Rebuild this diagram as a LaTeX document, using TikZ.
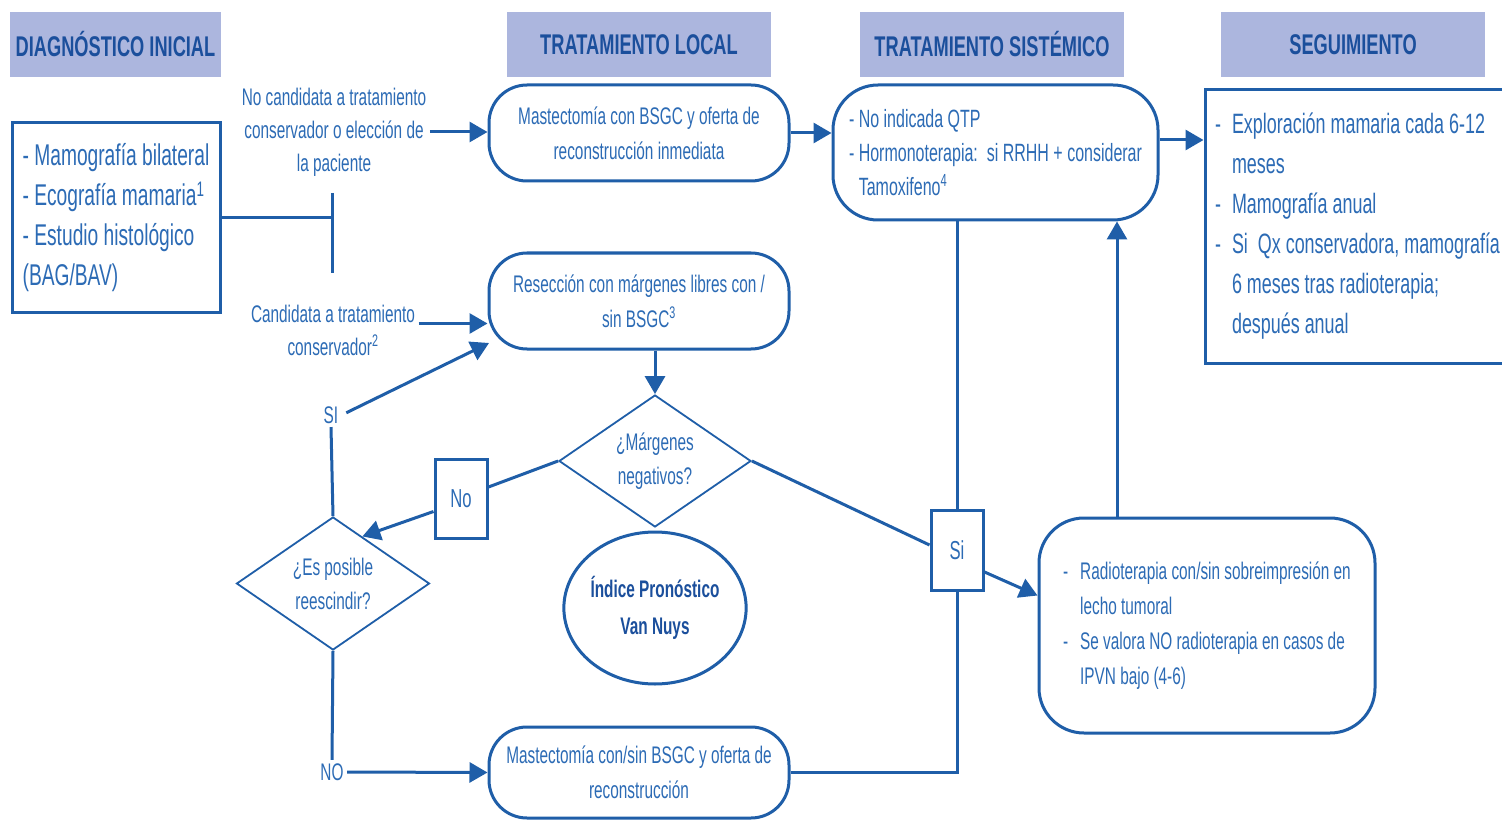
\documentclass[tikz,border=0pt]{standalone}
\usepackage{fontspec}
\setmainfont[FakeStretch=0.64]{Liberation Sans}
\usetikzlibrary{arrows.meta,shapes.geometric}

\definecolor{lineblue}{RGB}{31,94,168}
\definecolor{textblue}{RGB}{44,107,181}
\definecolor{headfill}{RGB}{172,182,222}
\definecolor{headtext}{RGB}{27,79,156}

\newcommand{\itemdash}{\makebox[17pt][l]{-}}
\newcommand{\itemskip}{\hspace*{17pt}}

\begin{document}
\begin{tikzpicture}[x=1pt, y=-1pt,
    header/.style={fill=headfill, text=headtext, inner sep=0pt,
        minimum width=264pt, minimum height=65pt,
        font=\fontsize{28.5}{30}\selectfont\bfseries},
    stage/.style={draw=lineblue, line width=3pt, rounded corners=38pt,
        text=textblue, align=center, inner sep=0pt,
        minimum width=300pt, minimum height=96pt,
        font=\fontsize{24}{35}\selectfont},
    squarebox/.style={draw=lineblue, line width=3pt, text=textblue, inner sep=0pt},
    question/.style={diamond, draw=lineblue, line width=1.8pt, text=textblue,
        aspect=1.45, inner sep=0pt, align=center,
        minimum width=192pt, minimum height=132pt,
        font=\fontsize{24}{34}\selectfont},
    answer/.style={text=textblue, align=center, font=\fontsize{24}{33}\selectfont},
    link/.style={draw=lineblue, line width=3pt},
    flow/.style={link, -{Triangle[length=18pt, width=20pt]}}]

    \path[use as bounding box, fill=white] (0,0) rectangle (1502,821);

    % column headers
    \node[header, minimum width=211pt] (hdiag) at (115.5,44.5) {DIAGNÓSTICO INICIAL};
    \node[header] (hlocal) at (639,44.5) {TRATAMIENTO LOCAL};
    \node[header] (hsist) at (992,44.5) {TRATAMIENTO SISTÉMICO};
    \node[header] (hseg) at (1353,44.5) {SEGUIMIENTO};

    \node[squarebox, minimum width=208pt, minimum height=189pt, align=left,
        font=\fontsize{30}{40}\selectfont] (tests) at (116,217.5)
        {- Mamografía bilateral\\- Ecografía mamaria\textsuperscript{1}\\- Estudio histológico\\(BAG/BAV)};

    \coordinate (bartop) at (332,193);
    \coordinate (barbot) at (332,273);
    \coordinate (resin) at (489,343);

    \node[answer] (nocand) at (334,132) {No candidata a tratamiento\\conservador o elección de\\la paciente};
    \node[answer] (cand) at (333,330) {Candidata a tratamiento\\conservador\textsuperscript{2}};
    \node[answer] (si) at (331,415) {SI};
    \node[answer] (no) at (332,772) {NO};

    \node[stage] (mastec) at (639,133) {Mastectomía con BSGC y oferta de\\reconstrucción inmediata};
    \node[stage] (resec) at (639,301) {Resección con márgenes libres con /\\sin BSGC\textsuperscript{3}};
    \node[stage, minimum height=91pt] (mast2) at (639,772.5) {Mastectomía con/sin BSGC y oferta de\\reconstrucción};

    \node[question] (marg) at (655,461) {¿Márgenes\\negativos?};
    \node[question, minimum width=193pt, minimum height=133pt] (reesc) at (333,583.5) {¿Es posible\\reescindir?};

    \node[ellipse, draw=lineblue, line width=3pt, text=headtext, inner sep=0pt,
        minimum width=180pt, minimum height=152pt, align=center,
        font=\fontsize{24}{37}\selectfont\bfseries] (vannuys) at (655,608) {Índice Pronóstico\\Van Nuys};

    \node[squarebox, minimum width=52pt, minimum height=79pt, font=\fontsize{26}{28}\selectfont] (nobox) at (461,498.5) {No};
    \node[squarebox, minimum width=52pt, minimum height=80pt, font=\fontsize{26}{28}\selectfont] (sibox) at (957,550) {Si};

    \node[stage, rounded corners=45pt, minimum width=325pt, minimum height=135pt, align=left,
        font=\fontsize{25}{34}\selectfont] (sist) at (995.5,152.5)
        {- No indicada QTP\\- Hormonoterapia:\ \ si RRHH + considerar\\\phantom{- }Tamoxifeno\textsuperscript{4}};

    \node[squarebox, minimum width=305pt, minimum height=273pt, align=left,
        font=\fontsize{28}{40}\selectfont] (seg) at (1357.5,226.5)
        {\itemdash Exploración mamaria cada 6-12\\\itemskip meses\\\itemdash Mamografía anual\\
         \itemdash Si\ \ Qx conservadora, mamografía\\\itemskip 6 meses tras radioterapia;\\\itemskip después anual};

    \node[stage, rounded corners=45pt, minimum width=336pt, minimum height=215pt, align=left] (radio) at (1207,625.5)
        {\itemdash Radioterapia con/sin sobreimpresión en\\\itemskip lecho tumoral\\
         \itemdash Se valora NO radioterapia en casos de\\\itemskip IPVN bajo (4-6)};

    % connectors
    \draw[link] (tests.east) -- (tests.east -| bartop);
    \draw[link] (bartop) -- (barbot);
    \draw[flow] (nocand.east) -- (nocand.east -| mastec.west);
    \draw[flow] ([yshift=6.5pt]cand.east) -- ([yshift=6.5pt]cand.east -| resec.west);
    \draw[flow, shorten <=5pt] (si.east) -- (resin);
    \draw[link] (reesc.north) -- (si.south);
    \draw[flow] (resec.south -| marg.north) -- (marg.north);
    \draw[link] (marg.west) -- ([yshift=11.5pt]nobox.east);
    \draw[flow] ([yshift=-13pt]nobox.west) -- (reesc.58);
    \draw[link] (reesc.south) -- (no.north);
    \draw[flow] (no.east) -- (mast2.west);
    \draw[link] (mast2.east) -- (mast2.east -| sibox.south) -- (sibox.south);
    \draw[link] (marg.east) -- ([yshift=5pt]sibox.west);
    \draw[link] (sibox.north) -- (sibox.north |- sist.south);
    \draw[flow] ([yshift=-22pt]sibox.east) -- ([yshift=30pt]radio.west);
    \draw[flow] ([xshift=-90pt]radio.north) -- ([xshift=-90pt]radio.north |- sist.south);
    \draw[flow] (mastec.east) -- (mastec.east -| sist.west);
    \draw[flow] ([yshift=12.5pt]sist.east) -- ([yshift=12.5pt]sist.east -| seg.west);

\end{tikzpicture}
\end{document}
